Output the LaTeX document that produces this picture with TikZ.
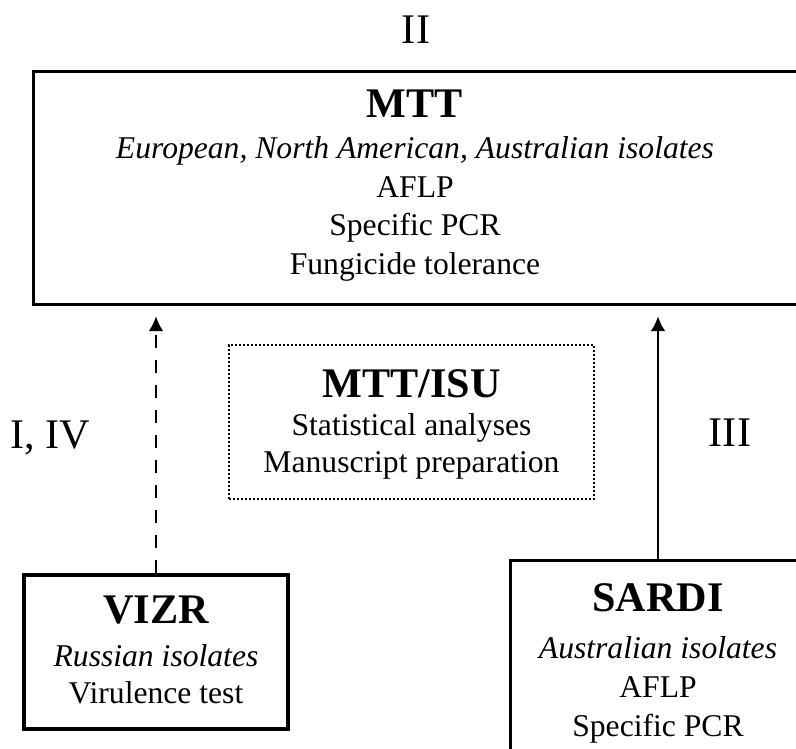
\documentclass[tikz,border=0pt]{standalone}
\usepackage{fontspec}
\setmainfont{Liberation Serif}
\usetikzlibrary{arrows.meta}

\newcommand{\boxtitle}[1]{{\fontsize{24}{28}\selectfont\bfseries #1}}

\begin{document}
\begin{tikzpicture}[x=0.2mm,y=-0.2mm,
  box/.style={draw,line width=1.8pt,inner sep=0pt},
  dotbox/.style={draw,line width=1.4pt,dash pattern=on 0.4mm off 0.4mm,inner sep=0pt},
  txt/.style={align=center,inner sep=0pt,font=\fontsize{18}{21}\selectfont},
  lbl/.style={inner sep=0pt,font=\fontsize{24}{28}\selectfont},
  link/.style={line width=1.6pt,-{Latex[length=3mm,width=3mm]},shorten >=2mm}]
\useasboundingbox (0,0) rectangle (796,748);
\clip (0,0) rectangle (796,748);

% boxes
\node[box,anchor=north west,minimum width=16cm,minimum height=46.6mm] (mttbox) at (32,70) {};
\node[dotbox,minimum width=73mm,minimum height=30.8mm] (isubox) at (411.5,422) {};
\node[box,minimum width=52.8mm,minimum height=30.8mm] (vizrbox) at (156,652) {};
\node[box,anchor=north west,minimum width=6cm,minimum height=4cm] (sardibox) at (509,559) {};

% texts
\node[txt,anchor=north] (mtt) at (415,90) {\boxtitle{MTT}\\[2pt]
  \textit{European, North American, Australian isolates}\\[1pt]
  AFLP\\[1pt] Specific PCR\\[1pt] Fungicide tolerance};
\node[txt,anchor=north] (isu) at (411.5,369) {\boxtitle{MTT/ISU}\\[1pt]
  Statistical analyses\\ Manuscript preparation};
\node[txt,anchor=north] (vizr) at (156,596) {\boxtitle{VIZR}\\[3pt]
  \textit{Russian isolates}\\ Virulence test};
\node[txt,anchor=north] (sardi) at (658,583) {\boxtitle{SARDI}\\[6pt]
  \textit{Australian isolates}\\[1pt] AFLP\\[1pt] Specific PCR};

% labels
\node[lbl] (ii) at (416,30) {II};
\node[lbl] (iiv) at (50,438) {I, IV};
\node[lbl] (iii) at (730,433) {III};

% arrows
\draw[link,dash pattern=on 2.6mm off 2.4mm] (vizrbox.north) -- (vizrbox.north |- mttbox.south);
\draw[link] (sardibox.north -| sardi.north) -- (sardi.north |- mttbox.south);
\end{tikzpicture}
\end{document}
